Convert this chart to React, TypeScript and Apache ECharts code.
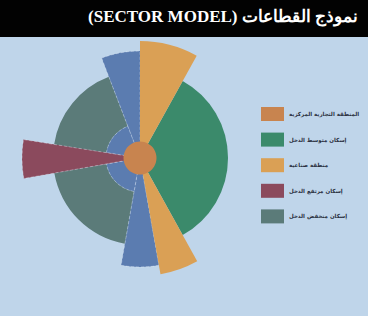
import React, { useEffect, useRef } from "react";
import * as echarts from "echarts";

// Sectors: [startAngle (deg, clockwise from north), endAngle, innerRadius, outerRadius]
const cbdSectors = [[0, 360, 0, 16.5]];
const middleIncome = [[29, 151, 0, 88]];
const industry = [
  [0, 29, 0, 117],
  [151, 170, 0, 118],
];
const highIncome = [[260, 279, 0, 118]];
const lowIncome = [
  [190, 260, 34, 87],
  [279, 339, 34, 87],
];
const workers = [
  [339, 360, 0, 107],
  [170, 190, 0, 109],
  [190, 260, 0, 34],
  [279, 339, 0, 34],
];

const names = {
  cbd: "المنطقة التجارية المركزية",
  middle: "إسكان متوسط الدخل",
  industry: "منطقة صناعية",
  high: "إسكان مرتفع الدخل",
  low: "إسكان منخفض الدخل",
  workers: "إسكان العمال",
};
const legendOrder = [names.cbd, names.middle, names.industry, names.high, names.low];
const titleText = "(SECTOR MODEL) نموذج القطاعات";

const colors = {
  cbd: "#c8844f",
  middle: "#3b8a6b",
  industry: "#daa055",
  high: "#8b4a5d",
  low: "#5b7b79",
  workers: "#5b7cb0",
};

function makeSeries(name: string, data: number[][], color: string, dashed: boolean, z: number) {
  return {
    type: "custom",
    name,
    coordinateSystem: "polar",
    z,
    itemStyle: { color },
    data,
    renderItem: (params: any, api: any) => {
      const cx = params.coordSys.cx;
      const cy = params.coordSys.cy;
      const a0 = api.value(0);
      const a1 = api.value(1);
      const rr0 = api.value(2);
      const rr1 = api.value(3);
      const pOuter0 = api.coord([rr1, a0]);
      const pOuter1 = api.coord([rr1, a1]);
      const pInner = api.coord([rr0, a0]);
      const r = Math.hypot(pOuter0[0] - cx, pOuter0[1] - cy);
      const r0 = Math.hypot(pInner[0] - cx, pInner[1] - cy);
      let s = Math.atan2(pOuter0[1] - cy, pOuter0[0] - cx);
      let e = Math.atan2(pOuter1[1] - cy, pOuter1[0] - cx);
      if (a1 - a0 >= 360) {
        s = 0;
        e = Math.PI * 2;
      } else if (e <= s) {
        e += Math.PI * 2;
      }
      return {
        type: "sector",
        shape: { cx, cy, r0, r, startAngle: s, endAngle: e, clockwise: true },
        style: dashed
          ? { fill: color, stroke: "rgba(235,240,250,0.5)", lineWidth: 0.7, lineDash: [3, 2] }
          : { fill: color },
      };
    },
  };
}

export default function App() {
  const ref = useRef<HTMLDivElement>(null);
  useEffect(() => {
    if (!ref.current) return;
    const chart = echarts.init(ref.current, undefined, { renderer: "svg" });
    chart.setOption({
      animation: false,
      backgroundColor: "#bfd5ea",
      polar: { center: [140, 158], radius: [0, 120] },
      angleAxis: {
        type: "value",
        min: 0,
        max: 360,
        startAngle: 90,
        clockwise: true,
        axisLine: { show: false },
        axisTick: { show: false },
        axisLabel: { show: false },
        splitLine: { show: false },
      },
      radiusAxis: {
        type: "value",
        min: 0,
        max: 120,
        axisLine: { show: false },
        axisTick: { show: false },
        axisLabel: { show: false },
        splitLine: { show: false },
      },
      legend: {
        data: legendOrder,
        orient: "vertical",
        left: 256,
        top: 102,
        icon: "rect",
        itemWidth: 23,
        itemHeight: 14,
        itemGap: 11.6,
        textStyle: { fontSize: 5.5, color: "#2a3040", fontWeight: "bold", fontFamily: "DejaVu Sans" },
      },
      series: [
        makeSeries(names.low, lowIncome, colors.low, false, 1),
        makeSeries(names.middle, middleIncome, colors.middle, false, 2),
        makeSeries(names.workers, workers, colors.workers, true, 3),
        makeSeries(names.industry, industry, colors.industry, false, 4),
        makeSeries(names.high, highIncome, colors.high, true, 5),
        makeSeries(names.cbd, cbdSectors, colors.cbd, false, 6),
      ],
      graphic: [
        {
          type: "rect",
          left: 0,
          top: 0,
          shape: { x: 0, y: 0, width: 368, height: 37 },
          style: { fill: "#020202" },
          z: 100,
        },
        {
          type: "text",
          x: 358,
          y: 16,
          z: 101,
          style: {
            text: titleText,
            fill: "#ffffff",
            font: 'bold 17px "Liberation Serif", "DejaVu Serif", serif',
            textAlign: "right",
            textVerticalAlign: "middle",
          },
        },
      ],
    });
    return () => chart.dispose();
  }, []);
  return (
    <div
      ref={ref}
      style={{ position: "fixed", left: 0, top: 0, width: 368, height: 316 }}
    />
  );
}
